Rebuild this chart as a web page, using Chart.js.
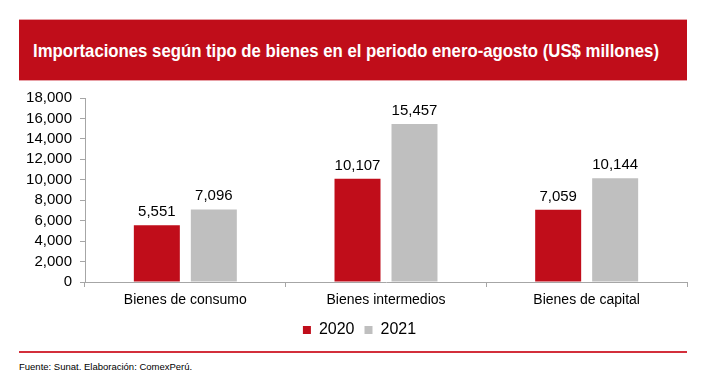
<!DOCTYPE html>
<html><head><meta charset="utf-8">
<script src="https://cdn.jsdelivr.net/npm/chart.js@4"></script>
<style>
html,body{margin:0;padding:0;background:#fff;width:705px;height:382px;overflow:hidden;font-family:"Liberation Sans",Arial,sans-serif;}
#banner{position:absolute;left:19px;top:19px;width:668px;height:62px;background:#C00D1A;border-top:1px solid #E8A0A6;border-bottom:1px solid #E8A0A6;box-sizing:border-box;}
#title{position:absolute;left:33px;top:40px;color:#fff;font-family:"Liberation Sans",Arial,sans-serif;font-weight:bold;font-size:18.5px;white-space:nowrap;transform-origin:left top;line-height:22px;}
#wrap{position:absolute;left:0;top:81px;width:705px;height:267px;}
#foot{position:absolute;left:19px;top:351px;width:668px;height:2px;background:#D32F3B;}
#src{position:absolute;left:19px;top:361px;font-size:9.5px;color:#000;}
</style></head><body>
<div id="banner"></div>
<div id="title">Importaciones según tipo de bienes en el periodo enero-agosto (US$ millones)</div>
<div id="wrap"><canvas id="c"></canvas></div>
<div id="foot"></div>
<div id="src">Fuente: Sunat. Elaboración: ComexPerú.</div>
<script>
const categories = ["Bienes de consumo", "Bienes intermedios", "Bienes de capital"];
const seriesNames = ["2020", "2021"];
const values2020 = [5551, 10107, 7059];
const values2021 = [7096, 15457, 10144];
const yTicks = [0, 2000, 4000, 6000, 8000, 10000, 12000, 14000, 16000, 18000];

const REG = '"Liberation Sans", Arial, sans-serif';

const t = document.getElementById('title');
const w = t.getBoundingClientRect().width;
t.style.transform = 'scaleX(' + (626 / w) + ')';

const fmt = v => v.toLocaleString('en-US');
const valueLabels = {
  id: 'valueLabels',
  afterLayout(chart) {
    if (chart.legend) chart.legend.left += 32;
  },
  afterDatasetsDraw(chart) {
    const ctx = chart.ctx;
    ctx.save();
    ctx.font = '15px ' + REG;
    ctx.fillStyle = '#000';
    ctx.textAlign = 'center';
    ctx.textBaseline = 'alphabetic';
    chart.data.datasets.forEach((ds, i) => {
      chart.getDatasetMeta(i).data.forEach((bar, j) => {
        ctx.fillText(fmt(ds.data[j]), bar.x, bar.y - 9);
      });
    });
    ctx.restore();
  }
};

new Chart(document.getElementById('c'), {
  type: 'bar',
  data: {
    labels: categories,
    datasets: [
      {label: seriesNames[0], data: values2020, backgroundColor: '#C00D1A'},
      {label: seriesNames[1], data: values2021, backgroundColor: '#BFBFBF'}
    ]
  },
  options: {
    responsive: true, maintainAspectRatio: false, animation: false,
    categoryPercentage: 0.568, barPercentage: 0.807,
    layout: {padding: {left: 0, right: 18, top: 12, bottom: 0}},
    plugins: {
      tooltip: {enabled: false},
      legend: {
        position: 'bottom',
        labels: {boxWidth: 8, boxHeight: 8, padding: 10, color: '#000',
          font: {family: REG, size: 16}}
      }
    },
    scales: {
      x: {
        grid: {display: true, drawOnChartArea: false, drawTicks: true, tickLength: 5, color: '#A6A6A6', offset: true},
        border: {color: '#A6A6A6'},
        ticks: {color: '#000', maxRotation: 0, padding: 5, font: {family: REG, size: 14}},
        afterFit(s) { s.height = 30; }
      },
      y: {
        min: 0, max: 18000,
        afterBuildTicks(s) { s.ticks = yTicks.map(v => ({value: v})); },
        grid: {display: true, drawOnChartArea: false, drawTicks: true, tickLength: 5, color: '#A6A6A6'},
        border: {color: '#A6A6A6'},
        ticks: {color: '#000', padding: 8, autoSkip: false, callback: v => fmt(v), font: {family: REG, size: 15}},
        afterFit(s) { s.width = 85; }
      }
    }
  },
  plugins: [valueLabels]
});
</script>
</body></html>
